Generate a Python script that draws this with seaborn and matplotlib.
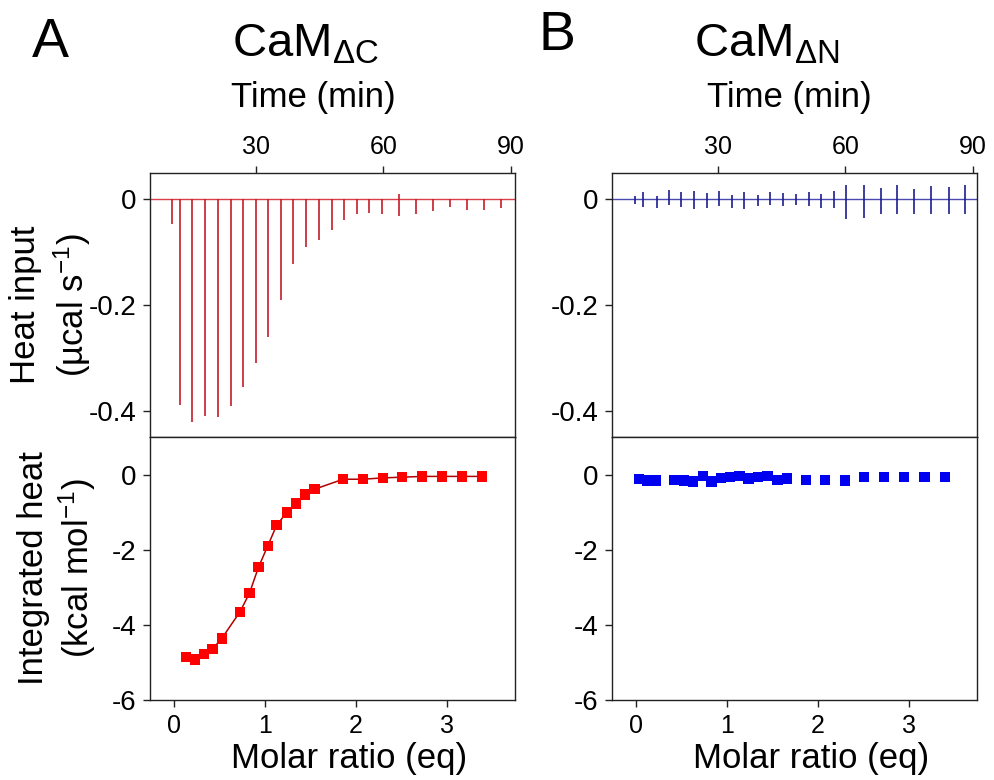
import matplotlib
matplotlib.use("Agg")
import matplotlib.pyplot as plt
import pandas as pd
import seaborn as sns

sns.set_theme(style="ticks")
plt.rcParams["font.family"] = ["Liberation Sans", "DejaVu Sans"]
plt.rcParams["mathtext.fontset"] = "custom"
plt.rcParams["mathtext.rm"] = "Liberation Sans"
plt.rcParams["mathtext.it"] = "Liberation Sans"
plt.rcParams["mathtext.default"] = "regular"
plt.rcParams["axes.unicode_minus"] = False
for key in ["text.color", "axes.labelcolor", "xtick.color", "ytick.color"]:
    plt.rcParams[key] = "black"

# ── Raw thermograms: injection time (min), peak low / high (µcal/s) ──
A_TIME = [10.1, 12.1, 14.9, 18.0, 21.0, 24.0, 27.0, 29.9, 32.9, 35.9, 38.8, 41.8, 44.7,
          47.8, 50.8, 53.8, 56.7, 59.7, 63.7, 67.6, 71.7, 75.6, 79.6, 83.6, 87.6]
A_LOW = [-0.046, -0.390, -0.421, -0.410, -0.413, -0.391, -0.356, -0.310, -0.261, -0.190,
         -0.123, -0.091, -0.076, -0.057, -0.039, -0.028, -0.025, -0.028, -0.032, -0.028,
         -0.022, -0.014, -0.020, -0.020, -0.016]
A_HIGH = [0, 0, 0, 0, 0, 0, 0, 0, 0, 0, 0, 0, 0, 0, 0, 0, 0, 0, 0.011, 0, 0, 0, 0, 0, 0]

B_TIME = [10.4, 12.4, 15.5, 18.4, 21.3, 24.3, 27.3, 30.2, 33.3, 36.2, 39.3, 42.3, 45.3,
          48.3, 51.3, 54.3, 57.2, 60.2, 64.3, 68.4, 72.2, 76.1, 80.1, 84.3, 88.2]
B_LOW = [-0.008, -0.014, -0.016, -0.011, -0.014, -0.018, -0.016, -0.013, -0.016, -0.018,
         -0.013, -0.011, -0.013, -0.011, -0.013, -0.016, -0.016, -0.037, -0.035, -0.028,
         -0.028, -0.028, -0.028, -0.028, -0.028]
B_HIGH = [0.006, 0.014, 0.006, 0.018, 0.014, 0.016, 0.013, 0.016, 0.009, 0.014, 0.009,
          0.014, 0.013, 0.011, 0.014, 0.011, 0.016, 0.027, 0.027, 0.022, 0.027, 0.019,
          0.025, 0.024, 0.028]

# ── Integrated heats: molar ratio vs kcal/mol ──
A_RATIO = [0.135, 0.233, 0.329, 0.427, 0.529, 0.729, 0.832, 0.931, 1.033, 1.131, 1.241,
           1.343, 1.446, 1.548, 1.862, 2.081, 2.296, 2.511, 2.731, 2.950, 3.169, 3.391]
A_HEAT = [-4.86, -4.92, -4.77, -4.64, -4.36, -3.65, -3.16, -2.47, -1.90, -1.35, -1.01,
          -0.77, -0.53, -0.39, -0.125, -0.125, -0.09, -0.07, -0.05, -0.05, -0.05, -0.05]

B_RATIO = [0.036, 0.124, 0.226, 0.427, 0.529, 0.628, 0.737, 0.832, 0.938, 1.037, 1.139,
           1.241, 1.347, 1.449, 1.559, 1.661, 1.869, 2.081, 2.297, 2.512, 2.731, 2.950,
           3.173, 3.395]
B_HEAT = [-0.124, -0.160, -0.160, -0.142, -0.160, -0.186, -0.035, -0.186, -0.089, -0.062,
          -0.035, -0.106, -0.071, -0.044, -0.142, -0.106, -0.142, -0.142, -0.160, -0.071,
          -0.062, -0.062, -0.062, -0.062]

XTICK_FS = 18
YTICK_FS = 20
LABEL_FS = 25

fig = plt.figure(figsize=(9.95, 7.8), dpi=100)
ax_a_top = fig.add_axes([0.1508, 0.4397, 0.3668, 0.3385])
ax_a_bot = fig.add_axes([0.1508, 0.1026, 0.3668, 0.3372])
ax_b_top = fig.add_axes([0.6151, 0.4397, 0.3668, 0.3385])
ax_b_bot = fig.add_axes([0.6151, 0.1026, 0.3668, 0.3372])


def style_frame(ax):
    for s in ax.spines.values():
        s.set_visible(True)
        s.set_linewidth(1.0)
        s.set_color("#222222")
    ax.tick_params(direction="out", length=5, width=1.0, color="#222222", pad=5)
    ax.tick_params(axis="x", labelsize=XTICK_FS)
    ax.tick_params(axis="y", labelsize=YTICK_FS)


def plot_thermogram(ax, times, low, high, color, line_color, label_x):
    ax.axhline(0, color=line_color, lw=1.0, zorder=1)
    ax.vlines(times, low, high, color=color, lw=1.2, zorder=2)
    style_frame(ax)
    ax.set_xlim(5, 91)
    ax.set_ylim(-0.45, 0.05)
    ax.set_xticks([30, 60, 90])
    ax.set_yticks([0, -0.2, -0.4])
    ax.set_yticklabels(["0", "-0.2", "-0.4"])
    ax.xaxis.tick_top()
    ax.xaxis.set_label_position("top")
    ax.set_xlabel("Time (min)", fontsize=LABEL_FS)
    ax.xaxis.set_label_coords(label_x, 1.25)
    ax.set_ylabel("")


def plot_isotherm(ax, ratio, heat, marker_color, line_color, with_fit):
    df = pd.DataFrame({"ratio": ratio, "heat": heat})
    if with_fit:
        sns.lineplot(data=df, x="ratio", y="heat", ax=ax, color=line_color, lw=1.1,
                     sort=False, zorder=2)
    sns.scatterplot(data=df, x="ratio", y="heat", ax=ax, marker="s", s=55,
                    color=marker_color, edgecolor="none", zorder=3)
    style_frame(ax)
    ax.set_xlim(-0.26, 3.75)
    ax.set_ylim(-6, 1)
    ax.set_xticks([0, 1, 2, 3])
    ax.set_yticks([0, -2, -4, -6])
    ax.set_xlabel("Molar ratio (eq)", fontsize=LABEL_FS)
    ax.xaxis.set_label_coords(0.545, -0.16)
    ax.set_ylabel("")


plot_thermogram(ax_a_top, A_TIME, A_LOW, A_HIGH, "#c41e2a", "#d9404a", 0.447)
plot_thermogram(ax_b_top, B_TIME, B_LOW, B_HIGH, "#1c1c8f", "#4a4ab0", 0.486)
plot_isotherm(ax_a_bot, A_RATIO, A_HEAT, "#ff0000", "#b00000", True)
plot_isotherm(ax_b_bot, B_RATIO, B_HEAT, "#0000f0", "#0000f0", False)

ax_a_top.set_ylabel("Heat input\n(µcal s$^{-1}$)", fontsize=LABEL_FS, linespacing=1.3)
ax_a_top.yaxis.set_label_coords(-0.156, 0.5)
ax_a_bot.set_ylabel("Integrated heat\n(kcal mol$^{-1}$)", fontsize=LABEL_FS,
                    linespacing=1.2)
ax_a_bot.yaxis.set_label_coords(-0.143, 0.5)

fig.text(0.3065, 0.927, r"CaM$_{\Delta C}$", fontsize=34, ha="center", va="baseline")
fig.text(0.771, 0.927, r"CaM$_{\Delta N}$", fontsize=34, ha="center", va="baseline")
fig.text(0.032, 0.927, "A", fontsize=40, ha="left", va="baseline")
fig.text(0.541, 0.936, "B", fontsize=40, ha="left", va="baseline")

fig.savefig("out.png", dpi=100)
